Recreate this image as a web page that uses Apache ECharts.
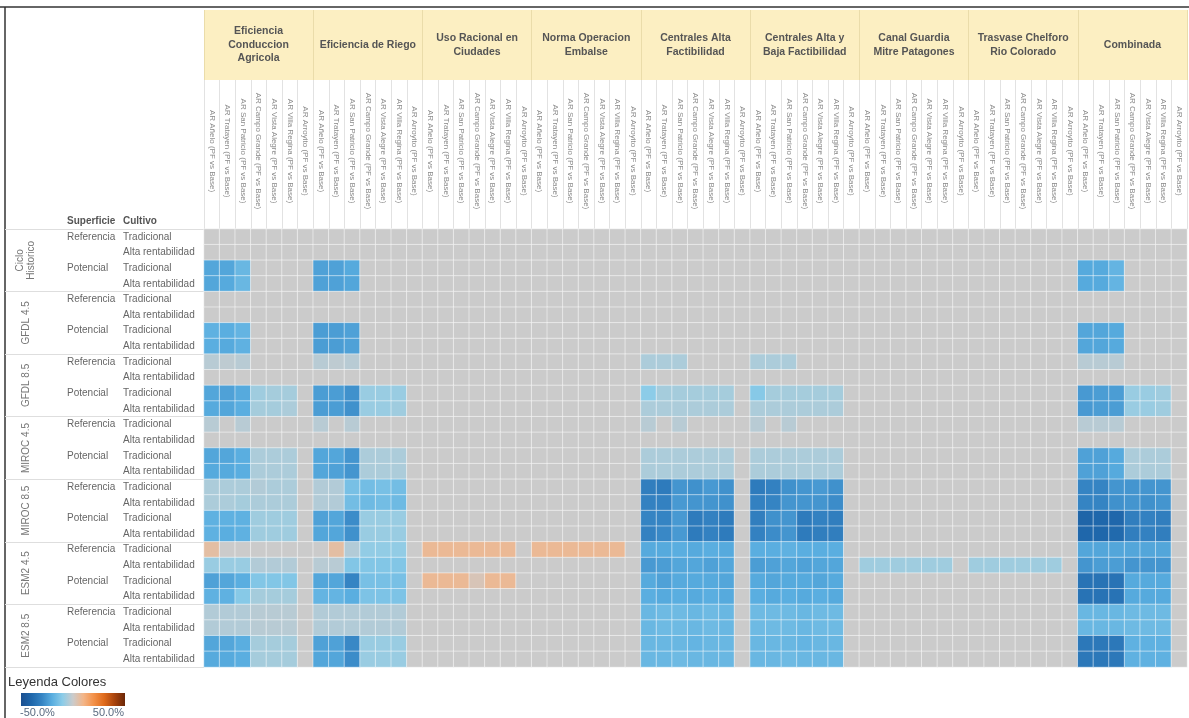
<!DOCTYPE html>
<html>
<head>
<meta charset="utf-8">
<script src="https://cdn.jsdelivr.net/npm/echarts@6/dist/echarts.min.js"></script>
<style>
html,body{margin:0;padding:0;background:#fff;}
#main{width:1189px;height:718px;}
</style>
</head>
<body>
<div id="main"></div>
<script>
// ---------- categories ----------
const groupNames = ['Eficiencia\nConduccion\nAgricola','Eficiencia de Riego','Uso Racional en\nCiudades','Norma Operacion\nEmbalse','Centrales Alta\nFactibilidad','Centrales Alta y\nBaja Factibilidad','Canal Guardia\nMitre Patagones','Trasvase Chelforo\nRio Colorado','Combinada'];
const stations = ['AR Añelo (PF vs Base)','AR Tratayen (PF vs Base)','AR San Patricio (PF vs Base)','AR Campo Grande (PF vs Base)','AR Vista Alegre (PF vs Base)','AR Villa Regina (PF vs Base)','AR Arroyito (PF vs Base)'];
const scenarios = ['Ciclo\nHistorico','GFDL 4.5','GFDL 8.5','MIROC 4.5','MIROC 8.5','ESM2 4.5','ESM2 8.5'];
const superficies = ['Referencia','Potencial'];
const cultivos = ['Tradicional','Alta rentabilidad'];
const legendTicks = ['-50.0%','50.0%'];

// ---------- values (% change), rows: scenario x superficie x cultivo, cols: stations ----------
const efConduccion = [
[0,0,0,0,0,0,0],[0,0,0,0,0,0,0],[-22,-22,-17,0,0,0,0],[-22,-21,-17,0,0,0,0],
[0,0,0,0,0,0,0],[0,0,0,0,0,0,0],[-19,-20,-18,0,0,0,0],[-20,-21,-19,0,0,0,0],
[-3,-2,-3,0,0,0,0],[0,0,0,0,0,0,0],[-22,-23,-21,-7,-6,-6,0],[-21,-22,-20,-6,-6,-5,0],
[-3,0,-3,0,0,0,0],[0,0,0,0,0,0,0],[-22,-22,-20,-5,-5,-5,0],[-21,-21,-20,-5,-5,-5,0],
[-5,-5,-5,-4,-5,-5,0],[-5,-5,-6,-5,-5,-5,0],[-19,-19,-19,-7,-7,-7,0],[-19,-20,-19,-7,-7,-7,0],
[6,0,0,0,0,0,0],[-8,-8,-8,-4,-4,-4,0],[-23,-22,-20,-12,-12,-12,0],[-19,-19,-11,-6,-6,-6,0],
[-4,-4,-4,-3,-3,-3,0],[-4,-4,-4,-3,-3,-3,0],[-22,-22,-20,-6,-6,-6,0],[-21,-21,-20,-6,-6,-6,0]
];
const efRiego = [
[0,0,0,0,0,0,0],[0,0,0,0,0,0,0],[-23,-23,-21,0,0,0,0],[-23,-23,-22,0,0,0,0],
[0,0,0,0,0,0,0],[0,0,0,0,0,0,0],[-24,-24,-23,0,0,0,0],[-24,-24,-23,0,0,0,0],
[-3,-2,-3,0,0,0,0],[0,0,0,0,0,0,0],[-24,-24,-27,-8,-8,-8,0],[-24,-24,-27,-8,-8,-7,0],
[-3,0,-3,0,0,0,0],[0,0,0,0,0,0,0],[-22,-22,-26,-5,-5,-5,0],[-22,-23,-26,-5,-5,-5,0],
[-4,-4,-14,-15,-14,-15,0],[-4,-4,-15,-16,-15,-16,0],[-23,-22,-28,-8,-8,-8,0],[-22,-22,-27,-8,-8,-8,0],
[0,6,-4,-9,-9,-9,0],[-3,-3,-12,-12,-12,-12,0],[-22,-22,-30,-14,-14,-14,0],[-18,-18,-20,-13,-13,-13,0],
[-4,-4,-4,-4,-4,-4,0],[-4,-4,-4,-4,-4,-4,0],[-23,-23,-29,-8,-8,-8,0],[-22,-22,-28,-8,-8,-8,0]
];
const usoRacional = [
[0,0,0,0,0,0,0],[0,0,0,0,0,0,0],[0,0,0,0,0,0,0],[0,0,0,0,0,0,0],
[0,0,0,0,0,0,0],[0,0,0,0,0,0,0],[0,0,0,0,0,0,0],[0,0,0,0,0,0,0],
[0,0,0,0,0,0,0],[0,0,0,0,0,0,0],[0,0,0,0,0,0,0],[0,0,0,0,0,0,0],
[0,0,0,0,0,0,0],[0,0,0,0,0,0,0],[0,0,0,0,0,0,0],[0,0,0,0,0,0,0],
[0,0,0,0,0,0,0],[0,0,0,0,0,0,0],[0,0,0,0,0,0,0],[0,0,0,0,0,0,0],
[8,8,8,8,8,8,0],[0,0,0,0,0,0,0],[8,8,8,3,8,8,0],[0,0,0,0,0,0,0],
[0,0,0,0,0,0,0],[0,0,0,0,0,0,0],[0,0,0,0,0,0,0],[0,0,0,0,0,0,0]
];
const normaOperacion = [
[0,0,0,0,0,0,0],[0,0,0,0,0,0,0],[0,0,0,0,0,0,0],[0,0,0,0,0,0,0],
[0,0,0,0,0,0,0],[0,0,0,0,0,0,0],[0,0,0,0,0,0,0],[0,0,0,0,0,0,0],
[0,0,0,0,0,0,0],[0,0,0,0,0,0,0],[0,0,0,0,0,0,0],[0,0,0,0,0,0,0],
[0,0,0,0,0,0,0],[0,0,0,0,0,0,0],[0,0,0,0,0,0,0],[0,0,0,0,0,0,0],
[0,0,0,0,0,0,0],[0,0,0,0,0,0,0],[0,0,0,0,0,0,0],[0,0,0,0,0,0,0],
[8,8,8,8,8,8,0],[0,0,0,0,0,0,0],[0,0,0,0,0,0,0],[0,0,0,0,0,0,0],
[0,0,0,0,0,0,0],[0,0,0,0,0,0,0],[0,0,0,0,0,0,0],[0,0,0,0,0,0,0]
];
const centralesAlta = [
[0,0,0,0,0,0,0],[0,0,0,0,0,0,0],[0,0,0,0,0,0,0],[0,0,0,0,0,0,0],
[0,0,0,0,0,0,0],[0,0,0,0,0,0,0],[0,0,0,0,0,0,0],[0,0,0,0,0,0,0],
[-5,-5,-5,0,0,0,0],[0,0,0,0,0,0,0],[-10,-6,-6,-6,-6,-6,0],[-5,-5,-5,-5,-5,-5,0],
[-3,0,-3,0,0,0,0],[0,0,0,0,0,0,0],[-5,-5,-5,-5,-5,-5,0],[-5,-5,-5,-5,-5,-5,0],
[-32,-33,-26,-27,-25,-27,0],[-31,-31,-25,-26,-26,-27,0],[-30,-30,-25,-33,-31,-33,0],[-31,-29,-25,-33,-31,-33,0],
[-21,-21,-20,-21,-20,-21,0],[-25,-24,-22,-22,-23,-22,0],[-21,-23,-21,-21,-21,-22,0],[-20,-21,-20,-21,-20,-21,0],
[-17,-16,-16,-17,-16,-17,0],[-17,-16,-16,-17,-16,-17,0],[-17,-17,-17,-18,-17,-17,0],[-17,-17,-16,-17,-17,-17,0]
];
const centralesAltaBaja = [
[0,0,0,0,0,0,0],[0,0,0,0,0,0,0],[0,0,0,0,0,0,0],[0,0,0,0,0,0,0],
[0,0,0,0,0,0,0],[0,0,0,0,0,0,0],[0,0,0,0,0,0,0],[0,0,0,0,0,0,0],
[-5,-5,-5,0,0,0,0],[0,0,0,0,0,0,0],[-11,-6,-6,-6,-6,-6,0],[-5,-5,-5,-5,-5,-5,0],
[-3,0,-3,0,0,0,0],[0,0,0,0,0,0,0],[-5,-5,-5,-5,-5,-5,0],[-5,-5,-5,-5,-5,-5,0],
[-33,-31,-27,-26,-25,-27,0],[-31,-30,-26,-26,-26,-28,0],[-32,-27,-26,-33,-31,-32,0],[-31,-28,-26,-33,-32,-32,0],
[-20,-20,-19,-20,-20,-20,0],[-24,-23,-22,-23,-22,-22,0],[-21,-22,-21,-21,-22,-21,0],[-20,-21,-20,-21,-20,-21,0],
[-16,-16,-16,-17,-16,-16,0],[-16,-16,-16,-17,-16,-16,0],[-17,-17,-17,-18,-17,-17,0],[-17,-17,-16,-17,-17,-17,0]
];
const canalGuardia = [
[0,0,0,0,0,0,0],[0,0,0,0,0,0,0],[0,0,0,0,0,0,0],[0,0,0,0,0,0,0],
[0,0,0,0,0,0,0],[0,0,0,0,0,0,0],[0,0,0,0,0,0,0],[0,0,0,0,0,0,0],
[0,0,0,0,0,0,0],[0,0,0,0,0,0,0],[0,0,0,0,0,0,0],[0,0,0,0,0,0,0],
[0,0,0,0,0,0,0],[0,0,0,0,0,0,0],[0,0,0,0,0,0,0],[0,0,0,0,0,0,0],
[0,0,0,0,0,0,0],[0,0,0,0,0,0,0],[0,0,0,0,0,0,0],[0,0,0,0,0,0,0],
[0,0,0,0,0,0,0],[-7,-7,-7,-7,-7,-7,0],[0,0,0,0,0,0,0],[0,0,0,0,0,0,0],
[0,0,0,0,0,0,0],[0,0,0,0,0,0,0],[0,0,0,0,0,0,0],[0,0,0,0,0,0,0]
];
const trasvase = [
[0,0,0,0,0,0,0],[0,0,0,0,0,0,0],[0,0,0,0,0,0,0],[0,0,0,0,0,0,0],
[0,0,0,0,0,0,0],[0,0,0,0,0,0,0],[0,0,0,0,0,0,0],[0,0,0,0,0,0,0],
[0,0,0,0,0,0,0],[0,0,0,0,0,0,0],[0,0,0,0,0,0,0],[0,0,0,0,0,0,0],
[0,0,0,0,0,0,0],[0,0,0,0,0,0,0],[0,0,0,0,0,0,0],[0,0,0,0,0,0,0],
[0,0,0,0,0,0,0],[0,0,0,0,0,0,0],[0,0,0,0,0,0,0],[0,0,0,0,0,0,0],
[0,0,0,0,0,0,0],[-7,-7,-7,-7,-7,-7,0],[0,0,0,0,0,0,0],[0,0,0,0,0,0,0],
[0,0,0,0,0,0,0],[0,0,0,0,0,0,0],[0,0,0,0,0,0,0],[0,0,0,0,0,0,0]
];
const combinada = [
[0,0,0,0,0,0,0],[0,0,0,0,0,0,0],[-21,-21,-18,0,0,0,0],[-21,-21,-18,0,0,0,0],
[0,0,0,0,0,0,0],[0,0,0,0,0,0,0],[-22,-22,-21,0,0,0,0],[-22,-22,-21,0,0,0,0],
[-3,-3,-3,0,0,0,0],[0,0,0,0,0,0,0],[-25,-24,-24,-8,-8,-7,0],[-25,-24,-24,-8,-8,-7,0],
[-3,-3,-3,0,0,0,0],[0,0,0,0,0,0,0],[-23,-23,-21,-5,-5,-5,0],[-23,-23,-21,-5,-5,-5,0],
[-30,-30,-26,-26,-26,-26,0],[-30,-30,-27,-26,-27,-26,0],[-41,-40,-40,-32,-31,-32,0],[-40,-40,-39,-32,-31,-32,0],
[-22,-22,-22,-22,-22,-22,0],[-26,-24,-24,-26,-26,-26,0],[-36,-36,-36,-21,-21,-21,0],[-36,-36,-36,-21,-21,-21,0],
[-17,-17,-17,-16,-16,-16,0],[-17,-17,-17,-16,-16,-16,0],[-34,-34,-34,-19,-19,-19,0],[-34,-34,-34,-19,-19,-19,0]
];

// ---------- build tables for the library ----------
const groupsData = [efConduccion, efRiego, usoRacional, normaOperacion, centralesAlta, centralesAltaBaja, canalGuardia, trasvase, combinada];
const xLabels = [];
groupNames.forEach(() => stations.forEach(s => xLabels.push(s)));
const cultivoLabels = [], superficieLabels = [];
scenarios.forEach(() => superficies.forEach(sp => cultivos.forEach((c, ci) => {
  cultivoLabels.push(c);
  superficieLabels.push(ci === 0 ? sp : '');
})));
const heat = [];
groupsData.forEach((g, gi) => g.forEach((row, ri) => row.forEach((v, ci) => heat.push([gi * stations.length + ci, ri, v]))));

const colorStops = ['#1b4f8f','#1f67ab','#3584c3','#5aaee0','#8ccce8','#cbcbcb','#f3b588','#f39149','#df6b1c','#a8440e','#6b2708'];

const FONT = '"Liberation Sans", Arial, sans-serif';
const GL = 204, GT = 229, GR = 2, GB = 51;

const chart = echarts.init(document.getElementById('main'));
chart.setOption({
  animation: false,
  backgroundColor: '#fff',
  textStyle: { fontFamily: FONT },
  grid: { left: GL, top: GT, right: GR, bottom: GB, containLabel: false },
  visualMap: {
    show: false, type: 'continuous', min: -50, max: 50, dimension: 2, seriesIndex: 0,
    inRange: { color: colorStops }
  },
  xAxis: [
    {
      type: 'category', position: 'top', data: xLabels,
      axisLine: { show: false },
      axisTick: { show: true, interval: 0, length: 149, lineStyle: { color: '#e2e2e2', width: 1 } },
      axisLabel: { interval: 0, rotate: 90, align: 'center', verticalAlign: 'middle', margin: 78,
        fontSize: 8, color: '#8a8a8a', fontFamily: FONT },
      splitLine: { show: false }
    },
    {
      type: 'category', position: 'top', offset: 149, data: groupNames,
      axisLine: { show: false },
      axisTick: { show: true, interval: 0, length: 70, lineStyle: { color: '#eadcaa', width: 1 } },
      axisLabel: { interval: 0, margin: 35, verticalAlign: 'middle', align: 'center',
        fontSize: 10.5, fontWeight: 'bold', color: '#555', lineHeight: 13.5, fontFamily: FONT },
      splitLine: { show: false }
    }
  ],
  yAxis: [
    {
      type: 'category', inverse: true, data: cultivoLabels, position: 'left',
      axisLine: { show: false }, axisTick: { show: false },
      axisLabel: { interval: 0, align: 'left', margin: 81, fontSize: 10, color: '#666', fontFamily: FONT }
    },
    {
      type: 'category', inverse: true, data: superficieLabels, position: 'left',
      axisLine: { show: false }, axisTick: { show: false },
      axisLabel: { interval: 0, align: 'left', margin: 137, fontSize: 10, color: '#666', fontFamily: FONT }
    },
    {
      type: 'category', inverse: true, data: scenarios, position: 'left',
      axisLine: { show: false },
      axisTick: { show: true, interval: 0, length: 199, lineStyle: { color: '#dedede' } },
      axisLabel: { interval: 0, rotate: 90, align: 'center', verticalAlign: 'middle', margin: 178,
        fontSize: 10, color: '#777', lineHeight: 11, fontFamily: FONT }
    }
  ],
  series: [{
    type: 'heatmap', xAxisIndex: 0, yAxisIndex: 0, data: heat,
    itemStyle: { borderColor: 'rgba(255,255,255,0.5)', borderWidth: 1 },
    emphasis: { disabled: true }
  }],
  graphic: [
    { type: 'rect', z: -10, shape: { x: GL, y: 10, width: 1189 - GL - GR, height: 70 }, style: { fill: '#fcefc2' } },
    { type: 'line', shape: { x1: 0, y1: 7, x2: 1189, y2: 7 }, style: { stroke: '#333', lineWidth: 1.5 } },
    { type: 'line', shape: { x1: 5, y1: 7, x2: 5, y2: 718 }, style: { stroke: '#333', lineWidth: 1.5 } },
    { type: 'text', left: 67, top: 216, style: { text: 'Superficie', font: 'bold 10px ' + FONT, fill: '#555' } },
    { type: 'text', left: 123, top: 216, style: { text: 'Cultivo', font: 'bold 10px ' + FONT, fill: '#555' } },
    { type: 'text', left: 8, top: 676, style: { text: 'Leyenda Colores', font: '13px ' + FONT, fill: '#333' } },
    { type: 'rect', shape: { x: 21, y: 693, width: 104, height: 13 }, style: {
        fill: new echarts.graphic.LinearGradient(0, 0, 1, 0,
          colorStops.map((c, i) => ({ offset: i / (colorStops.length - 1), color: c }))) } },
    { type: 'text', left: 20, top: 707, style: { text: legendTicks[0], font: '11px ' + FONT, fill: '#5a6b80' } },
    { type: 'text', right: 1189 - 124, top: 707, style: { text: legendTicks[1], font: '11px ' + FONT, fill: '#5a6b80', align: 'right' } }
  ]
});
</script>
</body>
</html>
